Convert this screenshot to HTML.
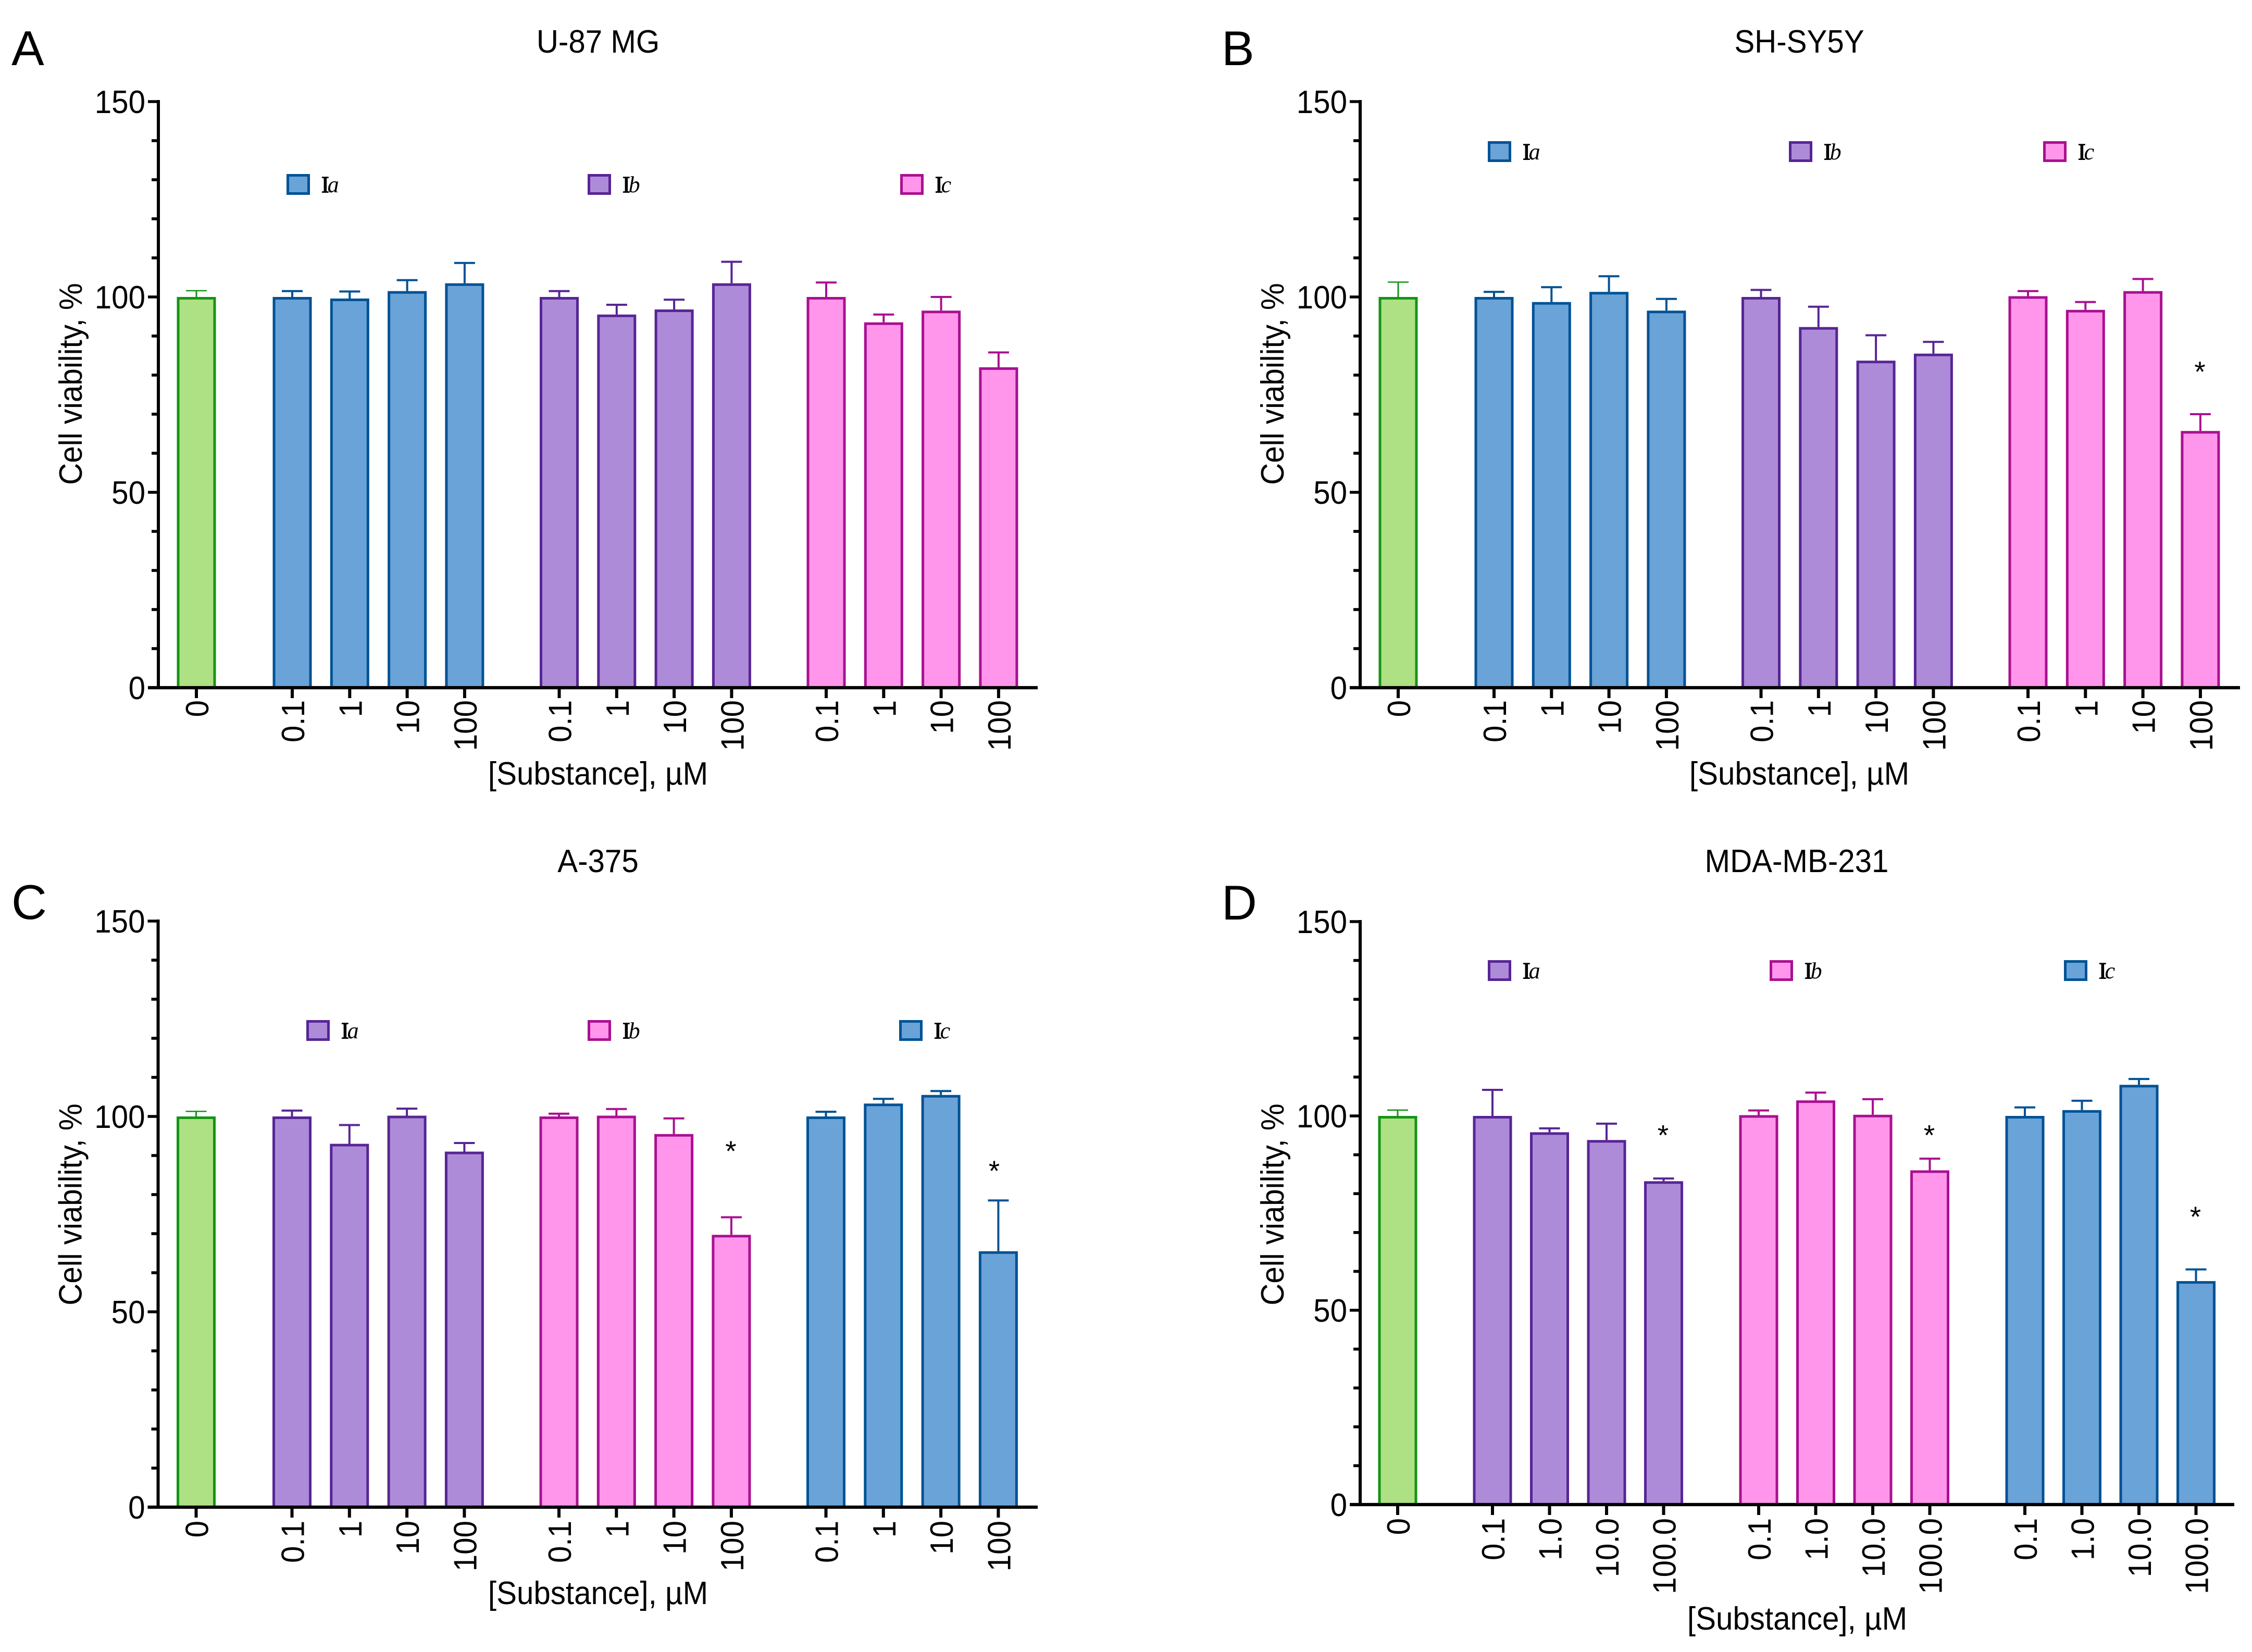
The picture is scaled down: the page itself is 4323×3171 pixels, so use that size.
<!DOCTYPE html>
<html lang="en">
<head>
<meta charset="utf-8">
<title>Cell viability panels</title>
<style>
html,body{margin:0;padding:0;background:#fff;width:4323px;height:3171px;overflow:hidden}
svg{display:block}
text{font-family:"Liberation Sans",Arial,sans-serif;fill:#000}
</style>
</head>
<body>
<svg id="figure" xmlns="http://www.w3.org/2000/svg" width="4323" height="3171" viewBox="0 0 4323 3171"></svg>
<script>
// ---- Data ----
const yTickValues = [0, 50, 100, 150];
const yMinorValues = [0,10,20,30,40,50,60,70,80,90,100,110,120,130,140,150];
const xLabelsShort = ['0','0.1','1','10','100','0.1','1','10','100','0.1','1','10','100'];
const xLabelsLong = ['0','0.1','1.0','10.0','100.0','0.1','1.0','10.0','100.0','0.1','1.0','10.0','100.0'];
const legendNames = ['a','b','c'];

const panelAMeans = [100, 100,99.6,101.5,103.5, 100,95.5,96.8,103.5, 100,93.5,96.5,82];
const panelAErrors = [1.6, 1.5,1.8,2.8,5.2, 1.5,2.5,2.5,5.5, 3.7,2,3.5,3.8];
const panelAStars = [null,null,null,null,null,null,null,null,null,null,null,null,null];

const panelBMeans = [100, 100,98.7,101.3,96.5, 100,92.3,83.7,85.5, 100.2,96.7,101.5,65.7];
const panelBErrors = [3.8, 1.3,3.8,4,3, 1.8,5.2,6.5,3, 1.3,2,3.1,4.3];
const panelBStars = [null,null,null,null,null,null,null,null,null,null,null,null,82];

const panelCMeans = [100, 100,93,100.2,91, 100,100.2,95.5,69.7, 100,103.3,105.5,65.5];
const panelCErrors = [1.3, 1.5,4.8,1.8,2.2, 0.7,1.7,4,4.5, 1.2,1.2,1,13];
const panelCStars = [null,null,null,null,null,null,null,null,92.3,null,null,null,87.2];

const panelDMeans = [100, 100,95.8,93.8,83.2, 100.2,104,100.3,86, 100,101.5,108,57.5];
const panelDErrors = [1.5, 6.7,1,4.2,0.7, 1.2,2,4,3, 2.2,2.4,1.5,3];
const panelDStars = [null,null,null,null,96.2,null,null,null,96.2,null,null,null,75.2];

// ---- Styling and layout (not data) ----
const palette = {
  green:{fill:'#aee084',stroke:'#159415'},
  blue:{fill:'#6aa3d8',stroke:'#005295'},
  purple:{fill:'#ae8bd8',stroke:'#572595'},
  pink:{fill:'#ff96ec',stroke:'#aa1090'}
};
const TEXT_SQUEEZE = 0.94;
const panels = [
 {id:'a',letter:'A',letterX:22,letterY:125,title:'U-87 MG',titleX:1148,titleY:101,axisX:304,y0:1320,unit:7.5,rightX:1992,
  pitch:110.3,groupPitch:512.5,firstGroup:257,control:73,titleOffset:186,labelOffset:24,yTitleY:737,xTitleX:1148,labels:xLabelsShort,
  means:panelAMeans,errors:panelAErrors,stars:panelAStars,colors:['blue','purple','pink'],
  legendX:[550,1128,1728],legendY:354},
 {id:'b',letter:'B',letterX:2345,letterY:125,title:'SH-SY5Y',titleX:3454,titleY:101,axisX:2611,y0:1320,unit:7.5,rightX:4300,
  pitch:110.3,groupPitch:512.5,firstGroup:257,control:73,titleOffset:186,labelOffset:24,yTitleY:737,xTitleX:3454,labels:xLabelsShort,
  means:panelBMeans,errors:panelBErrors,stars:panelBStars,colors:['blue','purple','pink'],
  legendX:[2856,3434,3922],legendY:291},
 {id:'c',letter:'C',letterX:22,letterY:1764,title:'A-375',titleX:1148,titleY:1674,axisX:303.5,y0:2893,unit:7.5,rightX:1992,
  pitch:110.3,groupPitch:512.5,firstGroup:257,control:73,titleOffset:186,labelOffset:26,yTitleY:2312,xTitleX:1148,labels:xLabelsShort,
  means:panelCMeans,errors:panelCErrors,stars:panelCStars,colors:['purple','pink','blue'],
  legendX:[588,1128,1726],legendY:1978},
 {id:'d',letter:'D',letterX:2345,letterY:1765,title:'MDA-MB-231',titleX:3449,titleY:1674,axisX:2611,y0:2888,unit:7.46,rightX:4289,
  pitch:109.5,groupPitch:511,firstGroup:254,control:72,titleOffset:240,labelOffset:26,yTitleY:2312,xTitleX:3450,labels:xLabelsLong,
  means:panelDMeans,errors:panelDErrors,stars:panelDStars,colors:['purple','pink','blue'],
  legendX:[2856,3397,3962],legendY:1863}
];

const NS = 'http://www.w3.org/2000/svg';
const root = document.getElementById('figure');
function make(tag, geom, parent) {
  const node = document.createElementNS(NS, tag);
  for (const k in geom) node.setAttribute(k, geom[k]);
  parent.appendChild(node);
  return node;
}
function yScale(p, v) { return p.y0 - v * p.unit; }
function xScale(p, i) {
  if (i === 0) return p.axisX + p.control;
  const g = Math.floor((i - 1) / 4), k = (i - 1) % 4;
  return p.axisX + p.firstGroup + g * p.groupPitch + k * p.pitch;
}
function barColor(p, i) {
  return i === 0 ? palette.green : palette[p.colors[Math.floor((i - 1) / 4)]];
}
function place(x, y, rot) {
  return 'translate(' + x + ',' + y + ')' + (rot ? ' rotate(-90)' : '') + ' scale(' + TEXT_SQUEEZE + ',1)';
}

panels.forEach(function (p) {
  const g = make('g', {}, root);
  
  

  const letter = make('text', {x:p.letterX, y:p.letterY, 'font-size':94}, g);
  letter.textContent = p.letter;
  
  

  const title = make('text', {transform:place(p.titleX, p.titleY, false), 'font-size':62, 'text-anchor':'middle'}, g);
  title.textContent = p.title;
  
  

  // bars + error bars
  p.means.forEach(function (v, i) {
    const c = barColor(p, i), cx = xScale(p, i), top = yScale(p, v);
    const errTop = yScale(p, v + p.errors[i]);
    const thin = i === 0 ? 2.6 : 4;

    const stem = make('line', {x1:cx, x2:cx, y1:top, y2:errTop, stroke:c.stroke, 'stroke-width':i === 0 ? 3 : 4}, g);
    
    

    const cap = make('line', {x1:cx-20, x2:cx+20, y1:errTop, y2:errTop, stroke:c.stroke, 'stroke-width':thin}, g);
    
    

    const bar = make('rect', {x:cx-35, y:top+2.5, width:70, height:p.y0-top-2.5, fill:c.fill, stroke:c.stroke, 'stroke-width':5}, g);
    
    

    const tick = make('line', {x1:cx, x2:cx, y1:p.y0, y2:p.y0+20, stroke:'#000', 'stroke-width':6}, g);
    
    

    const lab = make('text', {'font-size':62, 'text-anchor':'end', transform:place(cx+23, p.y0+p.labelOffset, true)}, g);
    lab.textContent = p.labels[i];
    
    

    if (p.stars[i] !== null) {
      const starDx = (p.id === 'c' && i === 12) ? -8 : -1;
      const star = make('text', {x:cx+starDx, y:yScale(p, p.stars[i])+27, 'font-size':55, 'text-anchor':'middle'}, g);
      star.textContent = '*';
      
      
    }
  });

  // axes
  const yAxis = make('line', {x1:p.axisX, x2:p.axisX, y1:yScale(p,150)-3, y2:p.y0+3, stroke:'#000', 'stroke-width':6}, g);
  
  

  const xAxis = make('line', {x1:p.axisX-20, x2:p.rightX, y1:p.y0, y2:p.y0, stroke:'#000', 'stroke-width':6.2}, g);
  
  

  yMinorValues.forEach(function (v) {
    if (v === 0) return;
    const major = yTickValues.indexOf(v) >= 0;
    const t = make('line', {x1:p.axisX-(major?20:13), x2:p.axisX, y1:yScale(p,v), y2:yScale(p,v), stroke:'#000', 'stroke-width':5.6}, g);
    
    
  });

  yTickValues.forEach(function (v) {
    const t = make('text', {transform:place(p.axisX-25, yScale(p,v)+22, false), 'font-size':62, 'text-anchor':'end'}, g);
    t.textContent = String(v);
    
    
  });

  const yTitle = make('text', {'font-size':62, 'text-anchor':'middle', transform:place(p.axisX-147, p.yTitleY, true)}, g);
  yTitle.textContent = 'Cell viability, %';
  
  

  const xTitle = make('text', {transform:place(p.xTitleX, p.y0+p.titleOffset, false), 'font-size':62, 'text-anchor':'middle'}, g);
  xTitle.textContent = '[Substance], \u00B5M';
  
  

  // legend
  p.legendX.forEach(function (lx, k) {
    const c = palette[p.colors[k]];
    const sw = make('rect', {x:lx+2.5, y:p.legendY-17.5, width:40, height:35, fill:c.fill, stroke:c.stroke, 'stroke-width':5}, g);
    
    

    const lt = make('text', {x:lx+67, y:p.legendY+15, 'font-size':44, style:'font-family:"Liberation Serif",serif'}, g);
    
    
    const s1 = make('tspan', {stroke:'#000', 'stroke-width':1.4}, lt);
    s1.textContent = 'I';
    const s2 = make('tspan', {'font-style':'italic', dx:-3}, lt);
    s2.textContent = legendNames[k];
  });
});
</script>
</body>
</html>
